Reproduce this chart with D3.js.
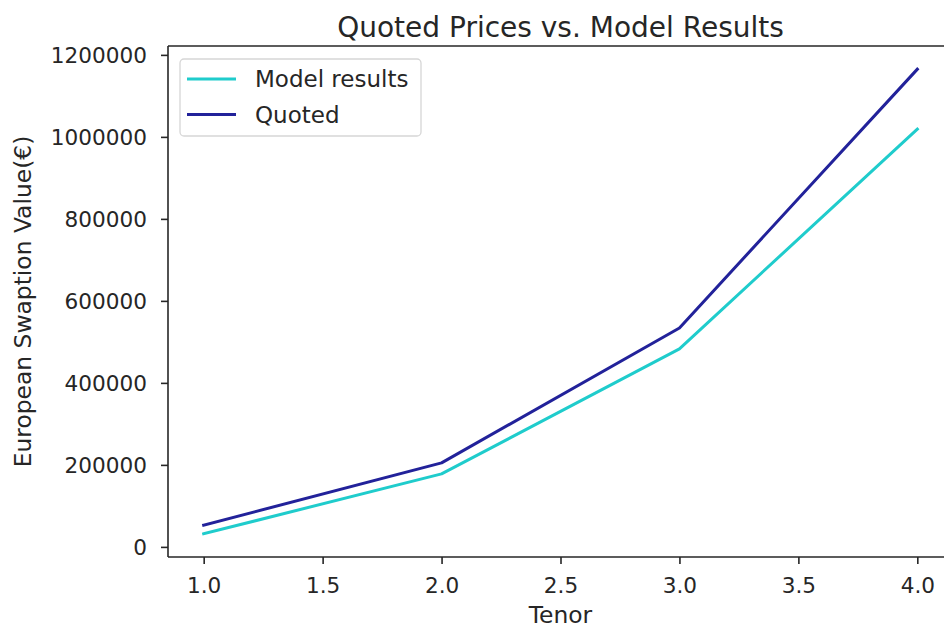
<!DOCTYPE html>
<html>
<head>
<meta charset="utf-8">
<script src="https://cdn.jsdelivr.net/npm/d3@7"></script>
<style>
  html, body { margin: 0; padding: 0; background: #fff; }
  svg { display: block; }
  text { font-family: "DejaVu Sans", sans-serif; fill: #262626; }
</style>
</head>
<body>
<svg id="chart" width="944" height="628"></svg>
<script>
// Tenor (years) and swaption values in euros
const tenors = [1.0, 2.0, 3.0, 4.0];
const modelResults = [32000, 178000, 483000, 1019000];
const quoted = [53000, 205000, 534000, 1165000];
const xTicks = [1.0, 1.5, 2.0, 2.5, 3.0, 3.5, 4.0];
const yTicks = [0, 200000, 400000, 600000, 800000, 1000000, 1200000];

const seriesNames = ["Model results", "Quoted"];
const seriesColors = ["#1fcccc", "#22229a"];

const svg = d3.select("#chart");
const plot = { left: 168, right: 953, top: 46, bottom: 557 };
const tickFont = 21.6;
const labelFont = 23.4;
const legendFont = 23;

// 5% padding around the data on both axes
const xExt = d3.extent(tenors);
const xPad = (xExt[1] - xExt[0]) * 0.05;
const allY = modelResults.concat(quoted);
const yExt = d3.extent(allY);
const yPad = (yExt[1] - yExt[0]) * 0.05;

const x = d3.scaleLinear().domain([xExt[0] - xPad, xExt[1] + xPad]).range([plot.left, plot.right]);
const y = d3.scaleLinear().domain([yExt[0] - yPad, yExt[1] + yPad]).range([plot.bottom, plot.top]);

// Lines
const line = d3.line().x(d => x(d[0])).y(d => y(d[1]));
const series = [modelResults, quoted];
series.forEach((vals, i) => {
  svg.append("path")
    .datum(tenors.map((t, j) => [t, vals[j]]))
    .attr("d", line)
    .attr("fill", "none")
    .attr("stroke", seriesColors[i])
    .attr("stroke-width", 3)
    .attr("stroke-linejoin", "round")
    .attr("stroke-linecap", "square");
});

// Axes frame
const axisColor = "#262626";
const frame = svg.append("g").attr("stroke", axisColor).attr("stroke-width", 1.6).attr("fill", "none");
frame.append("line").attr("x1", plot.left).attr("x2", plot.left).attr("y1", plot.top).attr("y2", plot.bottom);
frame.append("line").attr("x1", plot.left).attr("x2", plot.right).attr("y1", plot.bottom).attr("y2", plot.bottom);
frame.append("line").attr("x1", plot.left).attr("x2", plot.right).attr("y1", plot.top).attr("y2", plot.top);
frame.append("line").attr("x1", plot.right).attr("x2", plot.right).attr("y1", plot.top).attr("y2", plot.bottom);

// X axis
const xAxis = d3.axisBottom(x).tickValues(xTicks).tickFormat(d3.format(".1f")).tickSize(7).tickPadding(7);
const gx = svg.append("g").attr("transform", `translate(0,${plot.bottom})`).call(xAxis);
gx.select(".domain").remove();
gx.selectAll(".tick line").attr("stroke", axisColor).attr("stroke-width", 1.6);
gx.selectAll(".tick text")
  .attr("font-size", tickFont).attr("font-family", "DejaVu Sans").attr("fill", "#262626")
  .attr("dy", null).attr("y", 36);

// Y axis
const yAxis = d3.axisLeft(y).tickValues(yTicks).tickFormat(d3.format("d")).tickSize(7).tickPadding(14);
const gy = svg.append("g").attr("transform", `translate(${plot.left},0)`).call(yAxis);
gy.select(".domain").remove();
gy.selectAll(".tick line").attr("stroke", axisColor).attr("stroke-width", 1.6);
gy.selectAll(".tick text")
  .attr("font-size", tickFont).attr("font-family", "DejaVu Sans").attr("fill", "#262626")
  .attr("dy", "0.36em");

// Title and axis labels
const cx = (plot.left + plot.right) / 2;
svg.append("text").attr("x", cx).attr("y", 37).attr("text-anchor", "middle")
  .attr("font-size", 28).text("Quoted Prices vs. Model Results");
svg.append("text").attr("x", cx).attr("y", 623).attr("text-anchor", "middle")
  .attr("font-size", labelFont).text("Tenor");
svg.append("text")
  .attr("transform", `translate(31,${(plot.top + plot.bottom) / 2}) rotate(-90)`)
  .attr("text-anchor", "middle")
  .attr("font-size", labelFont).text("European Swaption Value(€)");

// Legend
const legend = svg.append("g");
legend.append("rect")
  .attr("x", 180).attr("y", 59).attr("width", 241).attr("height", 77)
  .attr("rx", 4).attr("fill", "#fff").attr("fill-opacity", 0.8)
  .attr("stroke", "#d6d6d6").attr("stroke-width", 1.3);
seriesNames.forEach((name, i) => {
  const ly = 79 + i * 35.5;
  legend.append("line").attr("x1", 187).attr("x2", 236).attr("y1", ly).attr("y2", ly)
    .attr("stroke", seriesColors[i]).attr("stroke-width", 3);
  legend.append("text").attr("x", 255).attr("y", ly).attr("dy", "0.36em")
    .attr("font-size", legendFont).text(name);
});
</script>
</body>
</html>
